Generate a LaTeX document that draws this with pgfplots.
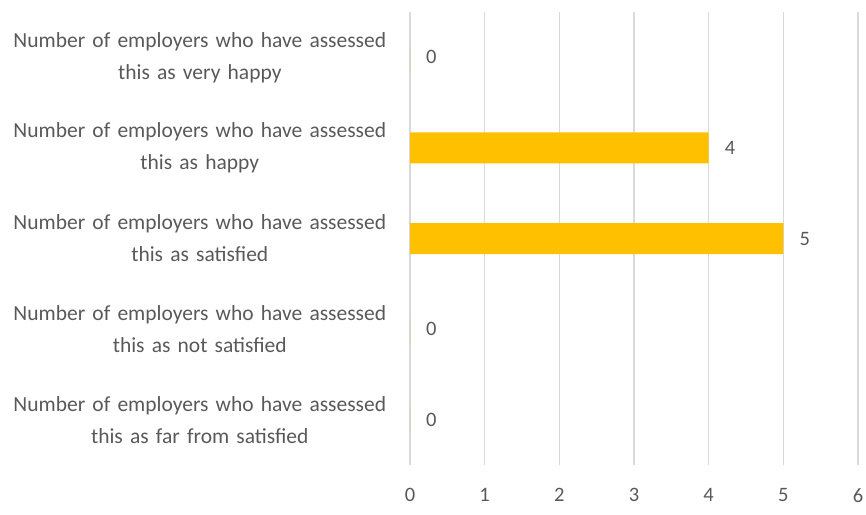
\documentclass[border=0pt]{standalone}
\usepackage{fontspec}
\setmainfont[WordSpace=0.75]{Carlito}
\usepackage{pgfplots}
\pgfplotsset{compat=1.18}
\definecolor{barc}{HTML}{FFC000}
\definecolor{gridc}{HTML}{D9D9D9}
\definecolor{txt}{HTML}{595959}
\begin{document}
\begin{tikzpicture}[x=1pt,y=1pt]
\path[use as bounding box] (0,0) rectangle (866,514);
\begin{axis}[
  at={(410pt,49pt)}, anchor=south west,
  scale only axis,
  width=448pt, height=453pt,
  xbar, bar width=31pt,
  xmin=0, xmax=6,
  ymin=-0.5, ymax=4.5,
  y dir=reverse,
  xtick={0,...,6},
  ytick={0,...,4},
  yticklabels={
    {Number of employers who have assessed\\this as very happy},
    {Number of employers who have assessed\\this as happy},
    {Number of employers who have assessed\\this as satisfied},
    {Number of employers who have assessed\\this as not satisfied},
    {Number of employers who have assessed\\this as far from satisfied}},
  yticklabel style={align=center, text width=390pt, inner sep=0pt, xshift=-15pt,
    font=\fontsize{21.5}{32}\selectfont, text=txt},
  xticklabel style={font=\fontsize{20.5}{24}\selectfont, text=txt, yshift=-20pt},
  /pgf/number format/assume math mode=true,
  axis line style={draw=none},
  major tick length=0pt,
  xmajorgrids,
  major grid style={gridc, line width=1.5pt},
  nodes near coords,
  nodes near coords style={font=\fontsize{20.5}{24}\selectfont, text=txt, anchor=west, inner sep=0pt, xshift=16pt},
  point meta=x,
]
\addplot[fill=barc, draw=none] coordinates {(0,0) (4,1) (5,2) (0,3) (0,4)};
\end{axis}
\end{tikzpicture}
\end{document}
